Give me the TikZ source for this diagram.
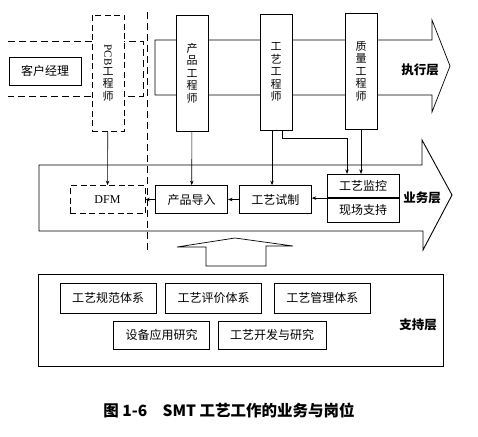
\documentclass[tikz,border=0pt]{standalone}
\usepackage{fontspec}
\newfontfamily\cjk{Noto Sans CJK SC}
\newfontfamily\lat{Liberation Serif}
\usetikzlibrary{arrows.meta, positioning, calc}
\begin{document}
\begin{tikzpicture}[
    x=1pt, y=-1pt,
    >={Stealth[length=4.5pt,width=3.5pt]},
    font=\cjk\fontsize{12}{14}\selectfont,
    base/.style={draw, align=center, line width=0.7pt, fill=white, inner sep=2pt},
    box/.style={base, minimum height=28pt, inner xsep=12pt},
    dbox/.style={box, dash pattern=on 6pt off 3.5pt},
    mon/.style={box, minimum height=23.5pt},
    tall/.style={base, minimum width=32pt, minimum height=116pt, font=\cjk\fontsize{11}{12.5}\selectfont},
    layer/.style={font=\cjk\bfseries\fontsize{12.5}{14}\selectfont},
    band/.style={line width=0.7pt},
    dashline/.style={line width=0.7pt, dash pattern=on 7pt off 4pt},
    arrow/.style={->, line width=0.6pt}
  ]
    \useasboundingbox (0,0) rectangle (478,436);
    \draw[band] (155,40) -- (432,40) -- (432,20) -- (450,66) -- (432,112) -- (432,95) -- (155,95) -- cycle;
    \draw[dashline] (8,41) -- (143,41) -- (143,96) -- (8,96);
    \draw[band, line width=0.9pt] (39,165) -- (422,165) -- (422,140) -- (452,195) -- (423,250) -- (423,231) -- (39,231) -- cycle;
    \draw[band] (206,266) -- (206,247) -- (177,247) -- (235,238) -- (293,246) -- (266,246) -- (266,266) -- cycle;
    \draw[dashline] (147,12) -- (147,250);
    \node[box] (cust) at (45,71) {客户经理};
    \node[tall, dash pattern=on 6pt off 3.5pt] (pcb) at (108,73)
    {{\lat\rotatebox[origin=c]{-90}{PCB}}\\[1pt]工\\程\\师};
    \node[tall] (prod) at (192,73) {产\\品\\工\\程\\师};
    \node[tall] (tech) at (276,72) {工\\艺\\工\\程\\师};
    \node[tall] (qual) at (361,71) {质\\量\\工\\程\\师};
    \node[layer] (exec) at (420,70) {执行层};
    \node[dbox, minimum width=75pt] (dfm) at (107.5,199.5) {\lat DFM};
    \node[box, right=10pt of dfm] (intro) {产品导入};
    \node[box, right=11pt of intro] (trial) {工艺试制};
    \node[mon] (mon1) at (363,186) {工艺监控};
    \node[mon, below=0pt of mon1] (mon2) {现场支持};
    \node[layer] (biz) at (422,198) {业务层};
    \node[base, minimum width=405pt, minimum height=92pt] (sup) at (240.5,320) {};
    \node[box, minimum height=30pt] (spec) at (108,298) {工艺规范体系};
    \node[box, minimum height=30pt, right=9pt of spec] (eval) {工艺评价体系};
    \node[box, minimum height=30pt, right=12pt of eval] (mgmt) {工艺管理体系};
    \node[box] (equip) at (161.5,335) {设备应用研究};
    \node[box, right=8pt of equip] (dev) {工艺开发与研究};
    \node[layer] (supl) at (418,325) {支持层};
    \node[font=\cjk\bfseries\fontsize{15.5}{18}\selectfont] (cap) at (229,410)
    {图 1-6\quad SMT 工艺工作的业务与岗位};
    \draw[arrow] (pcb) -- (dfm);
    \draw[arrow] (prod) -- (intro);
    \draw[arrow] ([xshift=-4pt]tech.south) -- ([xshift=-4pt]tech.south |- trial.north);
    \draw[arrow] ([xshift=6pt]tech.south) -- ++(0,8) -| ([xshift=-16pt]mon1.north);
    \draw[arrow] (qual) -- (qual |- mon1.north);
    \draw[arrow] (mon1.south west) -- (mon1.south west -| trial.east);
    \draw[arrow] (trial) -- (intro);
    \draw[arrow] (intro) -- (dfm);
  \end{tikzpicture}
\end{document}
